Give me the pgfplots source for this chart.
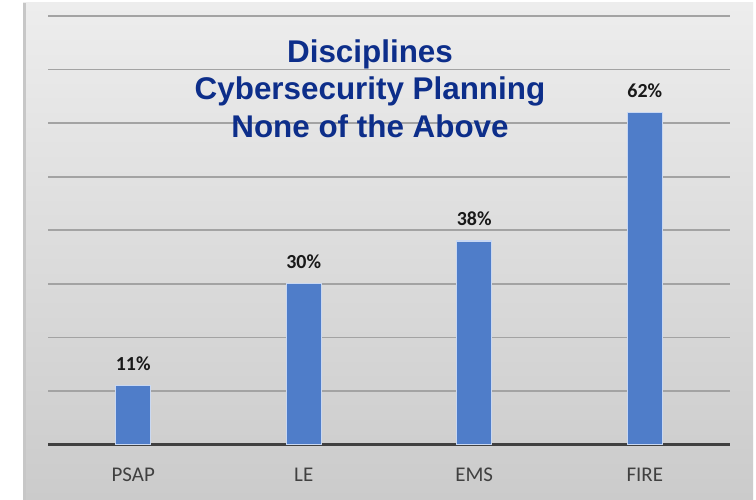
\documentclass[border=0pt]{standalone}
\usepackage{fontspec}
\setmainfont{Carlito}
\newfontfamily\titlefont{Liberation Sans}
\usepackage{pgfplots}
\pgfplotsset{compat=1.18}

\definecolor{bgtop}{HTML}{EDEDED}
\definecolor{bgbot}{HTML}{CBCBCB}
\definecolor{barblue}{HTML}{4F7DC9}
\definecolor{baredge}{HTML}{C9D8F2}
\definecolor{gridgray}{HTML}{A3A3A3}
\definecolor{axisdark}{HTML}{404040}
\definecolor{titleblue}{HTML}{0D2E8A}

\begin{document}
\begin{tikzpicture}[x=1bp,y=1bp]
\useasboundingbox (0,0) rectangle (756,500);
\fill[white] (0,0) rectangle (756,500);
\shade[top color=bgtop, bottom color=bgbot] (23,0) rectangle (753,497);
\fill[black!22] (23,0) rectangle (26,497);
\begin{axis}[
    at={(48bp,55.5bp)}, anchor=south west,
    scale only axis,
    width=682bp, height=428.5bp,
    xmin=-0.5, xmax=3.5,
    ymin=0, ymax=80,
    ybar, bar width=35bp,
    axis line style={draw=none},
    major tick length=0pt,
    xtick=data,
    xticklabels={PSAP,LE,EMS,FIRE},
    xticklabel style={font=\fontsize{21}{25}\selectfont, text=axisdark, anchor=base, yshift=-37bp},
    ytick={10,20,...,80},
    yticklabels={},
    ymajorgrids=true,
    grid style={gridgray, line width=1.7bp},
    extra y ticks={0},
    extra y tick labels={},
    extra y tick style={grid style={axisdark, line width=2.5bp}},
    /pgf/number format/assume math mode=true,
    nodes near coords={\pgfmathprintnumber{\pgfplotspointmeta}\%},
    nodes near coords style={font=\bfseries\fontsize{20}{24}\selectfont, text=black!90, anchor=base, yshift=15bp},
]
\addplot[fill=barblue, draw=baredge, line width=1.2bp]
    coordinates {(0,11) (1,30) (2,38) (3,62)};
\end{axis}
\begin{scope}[font=\titlefont\bfseries\fontsize{31.5}{38}\selectfont, text=titleblue]
\node[anchor=base] at (370,437) {Disciplines};
\node[anchor=base] at (370,400) {Cybersecurity Planning};
\node[anchor=base] at (370,362) {None of the Above};
\end{scope}
\end{tikzpicture}
\end{document}
